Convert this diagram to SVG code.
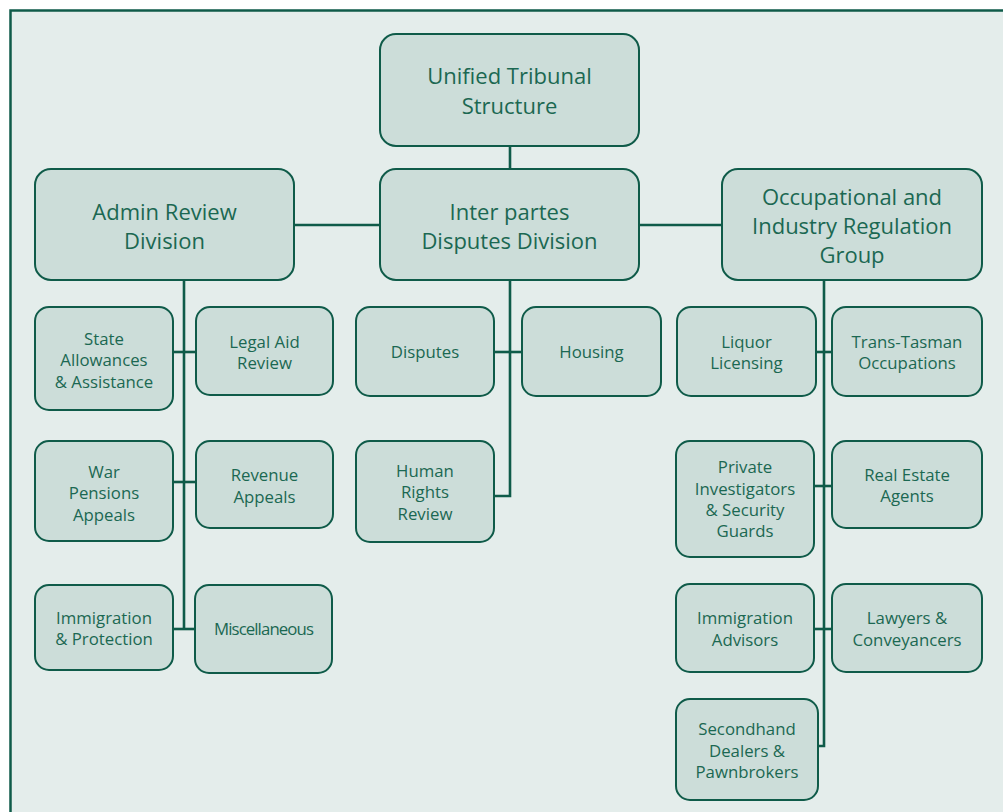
<svg xmlns="http://www.w3.org/2000/svg" width="1003" height="812" viewBox="0 0 1003 812">
<style>
.bg{fill:#e4edeb}
.frame{fill:none;stroke:#0f5b49;stroke-width:2.5}
.box{fill:#ccddd9;stroke:#0f5b49;stroke-width:2}
.con{fill:none;stroke:#0f5b49;stroke-width:2.6}
text{font-family:"Open Sans","Noto Sans",sans-serif;fill:#1b6852;text-anchor:middle}
.lg{font-size:22px}
.sm{font-size:16.8px}
</style>
<rect x="0" y="0" width="1003" height="812" fill="#ffffff"/>
<rect class="bg" x="10.5" y="10.5" width="1000" height="810"/>
<path class="frame" d="M10.5 820 V10.5 H1010"/>
<g id="connectors">
<line class="con" x1="510" y1="146" x2="510" y2="169"/>
<line class="con" x1="294" y1="225" x2="380" y2="225"/>
<line class="con" x1="639" y1="225" x2="722" y2="225"/>
<path class="con" d="M184 280 V629"/>
<line class="con" x1="173" y1="352" x2="196" y2="352"/>
<line class="con" x1="173" y1="482" x2="196" y2="482"/>
<line class="con" x1="173" y1="629" x2="195" y2="629"/>
<path class="con" d="M510 280 V496 H494"/>
<line class="con" x1="494" y1="352" x2="522" y2="352"/>
<path class="con" d="M824 280 V746 H818"/>
<line class="con" x1="816" y1="352" x2="832" y2="352"/>
<line class="con" x1="814" y1="486" x2="832" y2="486"/>
<line class="con" x1="814" y1="629" x2="832" y2="629"/>
</g>
<g id="unified">
<rect class="box" x="380" y="34" width="259" height="112" rx="16"/>
<text class="lg" x="509.5" y="84">Unified Tribunal</text>
<text class="lg" x="509.5" y="114">Structure</text>
</g>
<g id="admin">
<rect class="box" x="35" y="169" width="259" height="111" rx="16"/>
<text class="lg" x="164.5" y="220">Admin Review</text>
<text class="lg" x="164.5" y="249">Division</text>
</g>
<g id="interpartes">
<rect class="box" x="380" y="169" width="259" height="111" rx="16"/>
<text class="lg" x="509.5" y="220">Inter partes</text>
<text class="lg" x="509.5" y="249">Disputes Division</text>
</g>
<g id="occupational">
<rect class="box" x="722" y="169" width="260" height="111" rx="16"/>
<text class="lg" x="852" y="205">Occupational and</text>
<text class="lg" x="852" y="234">Industry Regulation</text>
<text class="lg" x="852" y="263">Group</text>
</g>
<g id="state">
<rect class="box" x="35" y="307" width="138" height="103" rx="14"/>
<text class="sm" x="104" y="345">State</text>
<text class="sm" x="104" y="366">Allowances</text>
<text class="sm" x="104" y="388">&amp; Assistance</text>
</g>
<g id="legalaid">
<rect class="box" x="196" y="307" width="137" height="88" rx="14"/>
<text class="sm" x="264.5" y="348">Legal Aid</text>
<text class="sm" x="264.5" y="369">Review</text>
</g>
<g id="war">
<rect class="box" x="35" y="441" width="138" height="100" rx="14"/>
<text class="sm" x="104" y="478">War</text>
<text class="sm" x="104" y="499">Pensions</text>
<text class="sm" x="104" y="521">Appeals</text>
</g>
<g id="revenue">
<rect class="box" x="196" y="441" width="137" height="87" rx="14"/>
<text class="sm" x="264.5" y="481">Revenue</text>
<text class="sm" x="264.5" y="503">Appeals</text>
</g>
<g id="immprot">
<rect class="box" x="35" y="585" width="138" height="85" rx="14"/>
<text class="sm" x="104" y="624">Immigration</text>
<text class="sm" x="104" y="645">&amp; Protection</text>
</g>
<g id="misc">
<rect class="box" x="195" y="585" width="137" height="88" rx="14"/>
<text class="sm" x="263.5" y="635" letter-spacing="-0.9">Miscellaneous</text>
</g>
<g id="disputes">
<rect class="box" x="356" y="307" width="138" height="89" rx="14"/>
<text class="sm" x="425" y="358">Disputes</text>
</g>
<g id="housing">
<rect class="box" x="522" y="307" width="139" height="89" rx="14"/>
<text class="sm" x="591.5" y="358">Housing</text>
</g>
<g id="humanrights">
<rect class="box" x="356" y="441" width="138" height="101" rx="14"/>
<text class="sm" x="425" y="477">Human</text>
<text class="sm" x="425" y="498">Rights</text>
<text class="sm" x="425" y="520">Review</text>
</g>
<g id="liquor">
<rect class="box" x="677" y="307" width="139" height="89" rx="14"/>
<text class="sm" x="746.5" y="348">Liquor</text>
<text class="sm" x="746.5" y="369">Licensing</text>
</g>
<g id="transtasman">
<rect class="box" x="832" y="307" width="150" height="89" rx="14"/>
<text class="sm" x="907" y="348">Trans-Tasman</text>
<text class="sm" x="907" y="369">Occupations</text>
</g>
<g id="private">
<rect class="box" x="676" y="441" width="138" height="116" rx="14"/>
<text class="sm" x="745" y="473">Private</text>
<text class="sm" x="745" y="495">Investigators</text>
<text class="sm" x="745" y="516">&amp; Security</text>
<text class="sm" x="745" y="537">Guards</text>
</g>
<g id="realestate">
<rect class="box" x="832" y="441" width="150" height="87" rx="14"/>
<text class="sm" x="907" y="481">Real Estate</text>
<text class="sm" x="907" y="502">Agents</text>
</g>
<g id="immadv">
<rect class="box" x="676" y="584" width="138" height="88" rx="14"/>
<text class="sm" x="745" y="624">Immigration</text>
<text class="sm" x="745" y="646">Advisors</text>
</g>
<g id="lawyers">
<rect class="box" x="832" y="584" width="150" height="88" rx="14"/>
<text class="sm" x="907" y="624">Lawyers &amp;</text>
<text class="sm" x="907" y="646">Conveyancers</text>
</g>
<g id="secondhand">
<rect class="box" x="676" y="699" width="142" height="101" rx="14"/>
<text class="sm" x="747" y="735">Secondhand</text>
<text class="sm" x="747" y="757">Dealers &amp;</text>
<text class="sm" x="747" y="778">Pawnbrokers</text>
</g>
</svg>
